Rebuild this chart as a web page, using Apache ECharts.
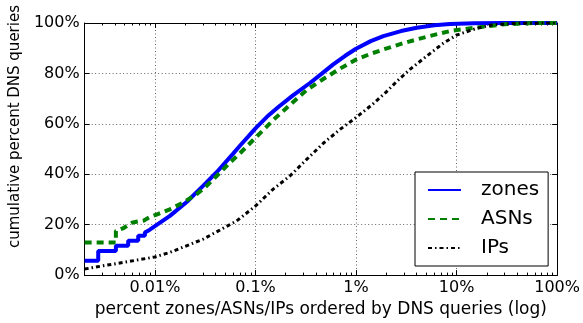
<!DOCTYPE html>
<html>
<head>
<meta charset="utf-8">
<script src="https://cdn.jsdelivr.net/npm/echarts@6/dist/echarts.min.js"></script>
<style>
html,body{margin:0;padding:0;background:#fff;}
#chart{width:583px;height:323px;}
</style>
</head>
<body>
<div id="chart"></div>
<script>
// x values: percent of zones/ASNs/IPs (log), y values: cumulative percent of DNS queries
const zonesX = [0.002, 0.00273, 0.00273, 0.00409, 0.00409, 0.00542, 0.00542, 0.00682, 0.00682, 0.00795, 0.00795, 0.0089, 0.01, 0.0141, 0.0207, 0.0301, 0.0411, 0.05, 0.06, 0.07, 0.085, 0.1, 0.13, 0.17, 0.236, 0.348, 0.46, 0.594, 0.78, 1, 1.4, 1.87, 2.8, 4.02, 6, 8.6, 15, 30, 100];
const zonesY = [5.7, 5.7, 9.6, 9.6, 11.6, 11.6, 13.6, 13.6, 15.6, 15.6, 16.9, 18.0, 19.4, 23.5, 29.0, 35.4, 40.8, 44.6, 48.2, 51.3, 55.0, 58.2, 62.8, 66.8, 71.3, 76.2, 80.0, 83.6, 87.0, 89.8, 92.8, 94.8, 96.8, 98.1, 99.1, 99.6, 99.9, 100, 100];

const asnsX = [0.002, 0.00409, 0.00409, 0.0048, 0.006, 0.0077, 0.0089, 0.0104, 0.0141, 0.0191, 0.026, 0.0327, 0.0411, 0.0557, 0.07, 0.1, 0.13, 0.15, 0.2, 0.323, 0.473, 0.7, 1, 1.4, 1.87, 2.8, 4.02, 6, 8.6, 12, 15.9, 30, 60, 100];
const asnsY = [12.9, 12.9, 17.5, 18.5, 20.9, 21.6, 23.0, 24.0, 26.1, 28.8, 32.1, 35.4, 39.3, 44.6, 48.3, 54.5, 59.0, 61.5, 66.0, 73.4, 77.8, 82.0, 85.5, 87.8, 89.5, 91.7, 93.5, 95.3, 96.8, 97.6, 98.2, 99.5, 100, 100];

const ipsX = [0.002, 0.00306, 0.00484, 0.01, 0.0141, 0.0303, 0.065, 0.1, 0.15, 0.22, 0.323, 0.473, 0.693, 1, 1.466, 1.993, 2.51, 3.44, 5.05, 7.4, 10, 15.9, 23, 42.8, 100];
const ipsY = [2.4, 3.7, 5.0, 7.2, 9.0, 14.3, 21.5, 27.4, 34.1, 39.3, 45.9, 52.3, 57.8, 62.5, 67.8, 72.6, 76.6, 81.6, 86.9, 92.0, 95.2, 97.9, 99.3, 99.9, 100];

const xMajorTicks = [0.01, 0.1, 1, 10, 100];
const xTickLabels = {0.01: '0.01%', 0.1: '0.1%', 1: '1%', 10: '10%', 100: '100%'};
const yTicks = [0, 20, 40, 60, 80, 100];

const xTitle = 'percent zones/ASNs/IPs ordered by DNS queries (log)';
const yTitle = 'cumulative percent DNS queries';

const minorTicks = [];
[0.001, 0.01, 0.1, 1, 10].forEach(d => { for (let k = 2; k <= 9; k++) minorTicks.push(+(d * k).toPrecision(3)); });

const pair = (xs, ys) => xs.map((x, i) => [x, ys[i]]);
const FONT = 'DejaVu Sans';
const X_MIN = 0.002, X_MAX = 100;

const gridLine = {show: true, lineStyle: {color: '#666', type: [1, 2.5], width: 1}};
const blackLine = {show: true, lineStyle: {color: '#000', width: 1}};

function xAx(pos, major, labels, split) {
  return {
    type: 'log', logBase: 10, min: X_MIN, max: X_MAX, position: pos,
    axisLine: blackLine,
    axisTick: {show: true, inside: true, length: major ? 5 : 2.5, lineStyle: {color: '#000', width: 1},
               customValues: major ? xMajorTicks : minorTicks},
    axisLabel: labels ? {show: true, customValues: xMajorTicks, formatter: v => xTickLabels[+(+v).toPrecision(3)] || '',
                         color: '#000', fontFamily: FONT, fontSize: 16, margin: 5} : {show: false},
    splitLine: split ? gridLine : {show: false},
    minorTick: {show: false}, minorSplitLine: {show: false},
    name: labels ? xTitle : '', nameLocation: 'middle', nameGap: 22,
    nameTextStyle: {color: '#000', fontFamily: FONT, fontSize: 17}
  };
}

const option = {
  animation: false,
  backgroundColor: '#fff',
  grid: {left: 84.5, right: 25.5, top: 23, bottom: 47, containLabel: false},
  xAxis: [xAx('bottom', true, true, true), xAx('bottom', false, false, false), xAx('top', true, false, false), xAx('top', false, false, false)],
  yAxis: [
    {type: 'value', min: 0, max: 100, interval: 20, position: 'left',
     axisLine: blackLine,
     axisTick: {show: true, inside: true, length: 5, lineStyle: {color: '#000'}},
     axisLabel: {formatter: '{value}%', color: '#000', fontFamily: FONT, fontSize: 16, margin: 5},
     splitLine: gridLine,
     name: yTitle, nameLocation: 'middle', nameGap: 36,
     nameTextStyle: {color: '#000', fontFamily: FONT, fontSize: 15, padding: [0, 0, 0, 45]}},
    {type: 'value', min: 0, max: 100, interval: 20, position: 'right',
     axisLine: blackLine,
     axisTick: {show: true, inside: true, length: 5, lineStyle: {color: '#000'}},
     axisLabel: {show: false}, splitLine: {show: false}}
  ],
  legend: {
    orient: 'vertical', left: 415, top: 172,
    padding: [7, 9, 7, 12], itemGap: 7, itemWidth: 33, itemHeight: 14,
    backgroundColor: '#fff', borderColor: '#000', borderWidth: 1, borderRadius: 0,
    itemStyle: {opacity: 0},
    textStyle: {color: '#000', fontFamily: FONT, fontSize: 20, lineHeight: 22, padding: [0, 0, 0, 15]},
    data: ['zones', 'ASNs', 'IPs']
  },
  series: [
    {name: 'zones', type: 'line', data: pair(zonesX, zonesY), showSymbol: false, symbol: 'none',
     lineStyle: {color: '#0000ff', width: 4, type: 'solid'}, itemStyle: {color: '#0000ff'}},
    {name: 'ASNs', type: 'line', data: pair(asnsX, asnsY), showSymbol: false, symbol: 'none',
     lineStyle: {color: '#008000', width: 4, type: [7, 5]}, itemStyle: {color: '#008000'}},
    {name: 'IPs', type: 'line', data: pair(ipsX, ipsY), showSymbol: false, symbol: 'none',
     lineStyle: {color: '#000', width: 3, type: [4, 3, 1.5, 3]}, itemStyle: {color: '#000'}}
  ]
};

const chart = echarts.init(document.getElementById('chart'), null, {renderer: 'canvas'});
chart.setOption(option);
</script>
</body>
</html>
